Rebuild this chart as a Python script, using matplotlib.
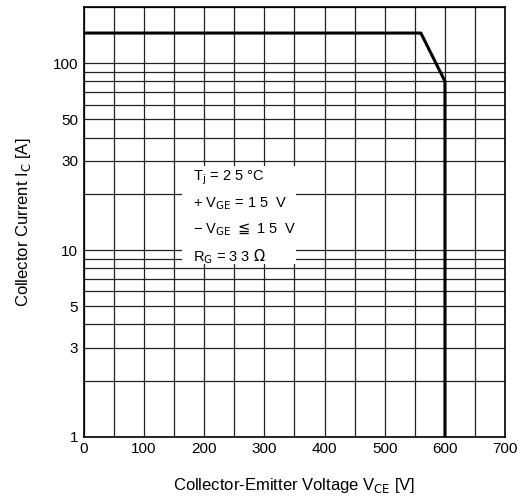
import matplotlib
matplotlib.use("Agg")
import numpy as np
from matplotlib import pyplot as plt
from matplotlib.patches import Rectangle

# safe operating area curve
vce = [0, 560, 600, 600]
ic = [145, 145, 80, 1]

x_ticks = [0, 100, 200, 300, 400, 500, 600, 700]
y_ticks = [1, 3, 5, 10, 30, 50, 100]
x_grid = list(range(0, 701, 50))
y_grid = [1, 2, 3, 4, 5, 6, 7, 8, 9, 10, 20, 30, 40, 50, 60, 70, 80, 90, 100, 200]

conditions = [r"T$_\mathrm{j}$ = 2 5 °C",
              r"+ V$_\mathrm{GE}$ = 1 5  V",
              r"− V$_\mathrm{GE}$ $\leqq$ 1 5  V",
              r"R$_\mathrm{G}$ = 3 3 $\Omega$"]
cond_y = [24.5, 17.8, 12.8, 9.2]

plt.rcParams['font.family'] = ['Liberation Sans', 'DejaVu Sans']

fig = plt.figure(figsize=(5.24, 4.97), dpi=100)
ax = fig.add_axes([0.160, 0.121, 0.804, 0.865])

ax.set_yscale('log')
ax.set_xlim(0, 700)
ax.set_ylim(1, 200)

for xv in x_grid:
	ax.axvline(xv, color='#222222', lw=0.9, zorder=1)
for yv in y_grid:
	ax.axhline(yv, color='#222222', lw=0.9, zorder=1)

# white box behind the test conditions
ax.add_patch(Rectangle((163, 8.4), 190, 19.9, facecolor='white', edgecolor='none', zorder=2))
for t, yv in zip(conditions, cond_y):
	ax.text(181, yv, t, fontsize=10.5, va='center', ha='left', zorder=3)

ax.plot(vce, ic, color='black', lw=2.2, zorder=4)

ax.set_xticks(x_ticks)
ax.set_xticklabels([str(v) for v in x_ticks], fontsize=11)
ax.set_yticks(y_ticks)
ax.set_yticklabels([str(v) for v in y_ticks], fontsize=11)
ax.yaxis.set_minor_locator(matplotlib.ticker.NullLocator())
ax.tick_params(length=0, pad=4)

for s in ax.spines.values():
	s.set_linewidth(1.2)

ax.set_xlabel(r"Collector-Emitter Voltage V$_\mathrm{CE}$ [V]", fontsize=12, labelpad=14)
ax.set_ylabel(r"Collector Current I$_\mathrm{C}$ [A]", fontsize=12, labelpad=14)

fig.savefig('out.png', dpi=100)
